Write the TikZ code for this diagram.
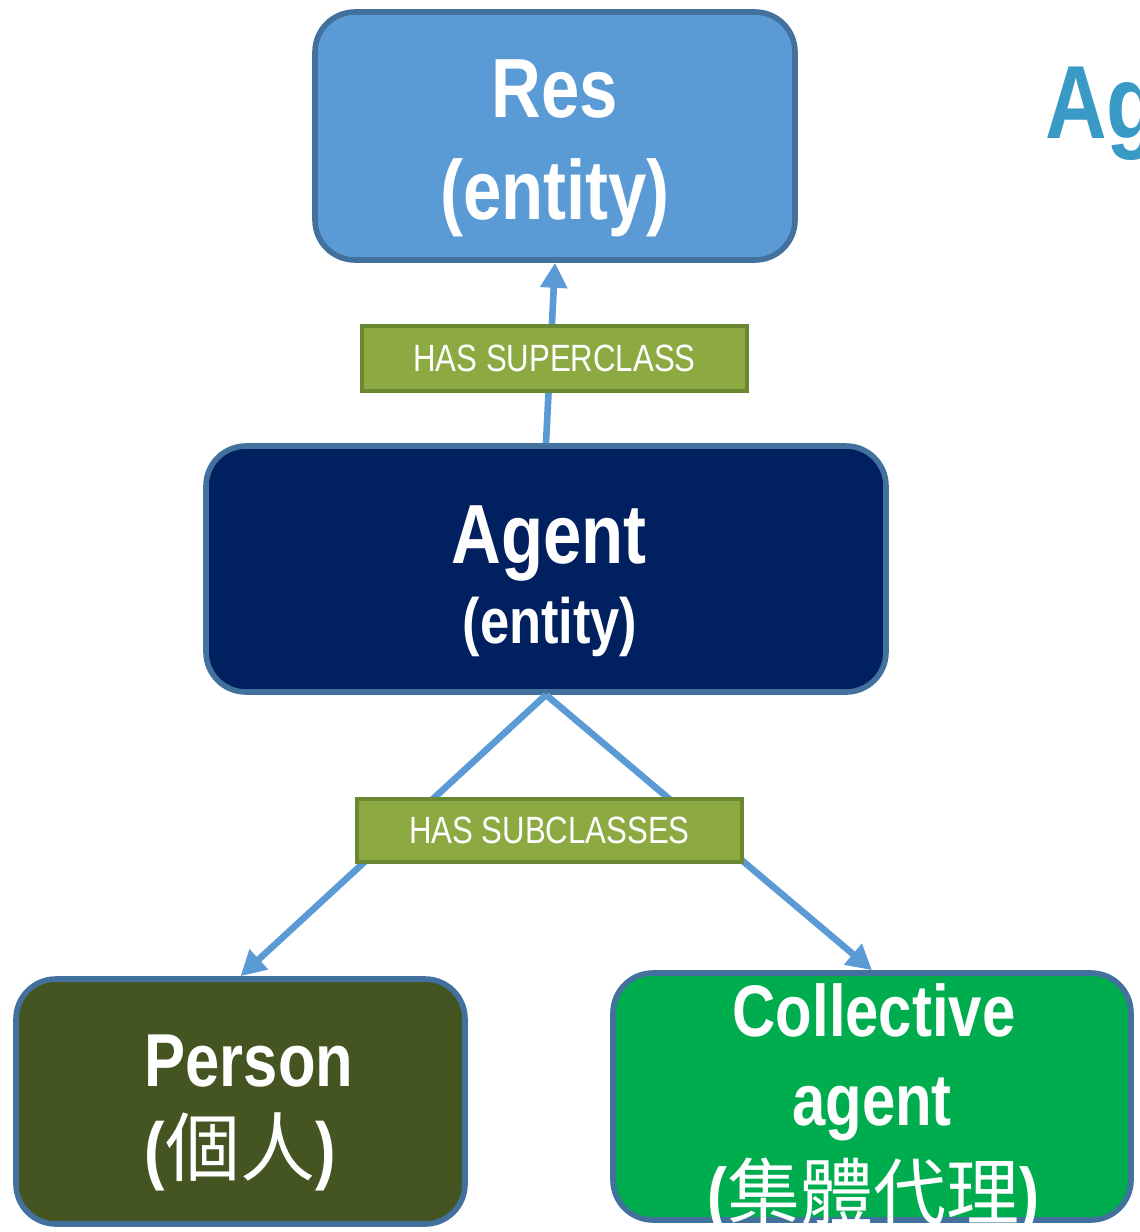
\documentclass[tikz,border=0pt]{standalone}
\usepackage{fontspec}
\setmainfont{Liberation Sans}[FakeStretch=0.82]
\newfontfamily\cjkfont{Noto Sans CJK TC}
\usetikzlibrary{arrows.meta}

\definecolor{resblue}{HTML}{5B9BD5}
\definecolor{edgeblue}{HTML}{41719C}
\definecolor{agentnavy}{HTML}{002060}
\definecolor{personolive}{HTML}{455522}
\definecolor{groupgreen}{HTML}{00AD4E}
\definecolor{relgreen}{HTML}{8DAA42}
\definecolor{reledge}{HTML}{6A8732}
\definecolor{titleblue}{HTML}{3A9AC6}

\tikzset{
  classbox/.style={draw=edgeblue, line width=2.8pt, rounded corners=20pt, inner sep=0pt},
  relbox/.style={draw=reledge, fill=relgreen, line width=2pt, inner sep=0pt, text=white,
    minimum width=192.5pt, font=\fontsize{19}{19}\selectfont},
  boxtext/.style={text=white, anchor=base, inner sep=0pt},
  link/.style={draw=resblue, line width=3.3pt, -{Triangle[width=13pt,length=12.5pt]}},
}

\begin{document}
\begin{tikzpicture}[x=0.5pt, y=-0.5pt]
  \useasboundingbox (0,0) rectangle (1140,1232);
  % class boxes
  \node[classbox, fill=resblue, minimum width=240pt, minimum height=124pt] (res) at (555,136) {};
  \node[classbox, fill=agentnavy, minimum width=340pt, minimum height=123pt] (agent) at (546,569) {};
  \node[classbox, fill=personolive, minimum width=224.5pt, minimum height=122.5pt] (person) at (240.5,1101.5) {};
  \node[classbox, fill=groupgreen, minimum width=259pt, minimum height=123.5pt] (group) at (872,1096.5) {};

  % links
  \draw[link] (agent.north) -- (res.south);
  \draw[link] (agent.south) -- (person.north);
  \draw[link] (agent.south) -- (group.north);

  % relation labels
  \node[relbox, minimum height=32.5pt] (super) at (554.5,358.5) {HAS SUPERCLASS};
  \node[relbox, minimum height=31.5pt] (sub) at (549.5,830.5) {HAS SUBCLASSES};

  % box texts
  \node[boxtext, font=\bfseries\fontsize{42}{42}\selectfont] (res-name) at (555,117) {Res};
  \node[boxtext, font=\bfseries\fontsize{42}{42}\selectfont] (res-kind) at (555,219) {(entity)};
  \node[boxtext, font=\bfseries\fontsize{42}{42}\selectfont] (agent-name) at (549,563) {Agent};
  \node[boxtext, font=\bfseries\fontsize{32}{32}\selectfont] (agent-kind) at (550,643) {(entity)};
  \node[boxtext, font=\bfseries\fontsize{37.5}{37.5}\selectfont] (person-name) at (249,1086) {Person};
  \node[boxtext, font=\bfseries\fontsize{37.5}{37.5}\selectfont] (person-zh) at (240,1175) {({\cjkfont\mdseries 個人})};
  \node[boxtext, font=\bfseries\fontsize{36.5}{36.5}\selectfont] (group-name) at (874,1036) {Collective};
  \node[boxtext, font=\bfseries\fontsize{36.5}{36.5}\selectfont] (group-name2) at (872,1125) {agent};
  \node[boxtext, font=\bfseries\fontsize{36.5}{36.5}\selectfont] (group-zh) at (873,1219) {({\cjkfont\mdseries 集體代理})};

  % title, cut off at the right edge
  \node[text=titleblue, anchor=base west, inner sep=0pt, font=\bfseries\fontsize{52}{52}\selectfont] (title) at (1045,138) {Ag};
\end{tikzpicture}
\end{document}
